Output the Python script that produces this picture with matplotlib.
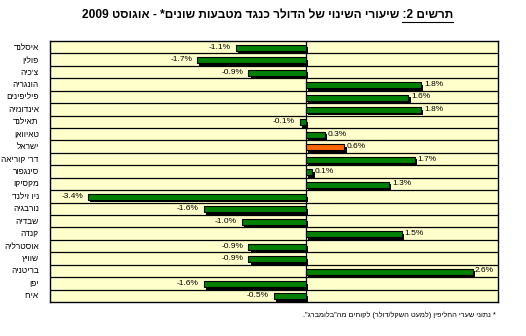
import re

import matplotlib.pyplot as plt
import matplotlib.patheffects as pe

plt.rcParams['font.family'] = ['Liberation Sans', 'DejaVu Sans']

# data, top row first
countries = ['איסלנד', 'פולין', "צ'כיה", 'הונגריה', 'פיליפינים', 'אינדונזיה',
             'תאילנד', 'טאיוואן', 'ישראל', "דר' קוריאה", 'סינגפור', 'מקסיקו',
             'ניו זילנד', 'נורבגיה', 'שבדיה', 'קנדה', 'אוסטרליה', 'שוויץ',
             'בריטניה', 'יפן', 'אירו']
changes = [-1.1, -1.7, -0.9, 1.8, 1.6, 1.8, -0.1, 0.3, 0.6, 1.7, 0.1, 1.3,
           -3.4, -1.6, -1.0, 1.5, -0.9, -0.9, 2.6, -1.6, -0.5]
highlight = 'ישראל'

title_head = 'תרשים 2:'
title_rest = 'שיעורי השינוי של הדולר כנגד מטבעות שונים* - אוגוסט 2009'
footnote = '* נתוני שערי החליפין (למעט השקל/דולר) לקוחים מה"בלומברג".'


def rtl(s):
    # crude visual ordering: reverse, put digit runs back, mirror brackets
    r = s[::-1]
    r = re.sub(r'[0-9.]+', lambda m: m.group(0)[::-1], r)
    return r.translate(str.maketrans('()', ')('))


fig = plt.figure(figsize=(5.26, 3.36), dpi=100)
ax = fig.add_axes([0.095, 0.101, 0.852, 0.777])
ax.set_facecolor('#FFFFCC')

n = len(countries)
ypos = list(range(n))
colors = ['#FF6600' if c == highlight else '#008000' for c in countries]
bars = ax.barh([y + 0.05 for y in ypos], changes, height=0.48, color=colors,
               edgecolor='black', linewidth=0.8, zorder=3)
for b in bars:
    b.set_path_effects([pe.SimplePatchShadow(offset=(1.5, -1.8),
                                             shadow_rgbFace='black', alpha=1.0),
                        pe.Normal()])

for y, v in zip(ypos, changes):
    txt = '{:.1f}%'.format(v)
    if v < 0:
        ax.text(v - 0.08, y, txt, ha='right', va='center', fontsize=6, zorder=4)
    else:
        ax.text(v + 0.04, y, txt, ha='left', va='center', fontsize=6, zorder=4)

ax.set_xlim(-4, 3)
ax.set_ylim(n - 0.5, -0.5)
for k in range(n - 1):
    ax.axhline(k + 0.5, color='black', linewidth=0.9, zorder=1)
ax.axvline(0, color='black', linewidth=0.9, zorder=2)

ax.set_xticks([])
ax.set_yticks(ypos)
ax.set_yticklabels([rtl(c) for c in countries], fontsize=6)
ax.tick_params(axis='y', length=0, pad=8)
for s in ax.spines.values():
    s.set_color('black')
    s.set_linewidth(1.0)

# title, with the "figure 2:" part underlined
full_title = rtl(title_head + ' ' + title_rest)
t = fig.text(0.508, 0.955, full_title, ha='center', va='center',
             fontsize=8.6, fontweight='bold')
fig.canvas.draw()
r = fig.canvas.get_renderer()
bb = t.get_window_extent(r)
probe = fig.text(0, 0, rtl(title_head), fontsize=8.6, fontweight='bold')
w = probe.get_window_extent(r).width
probe.remove()
x1 = bb.x1 / fig.bbox.width
x0 = (bb.x1 - w) / fig.bbox.width
yl = (bb.y0 - 0.5) / fig.bbox.height
fig.add_artist(plt.Line2D([x0, x1], [yl, yl], color='black', linewidth=0.8))

fig.text(0.943, 0.063, rtl(footnote), ha='right', va='center', fontsize=5.3)

fig.savefig('out.png', dpi=100, facecolor='white')
